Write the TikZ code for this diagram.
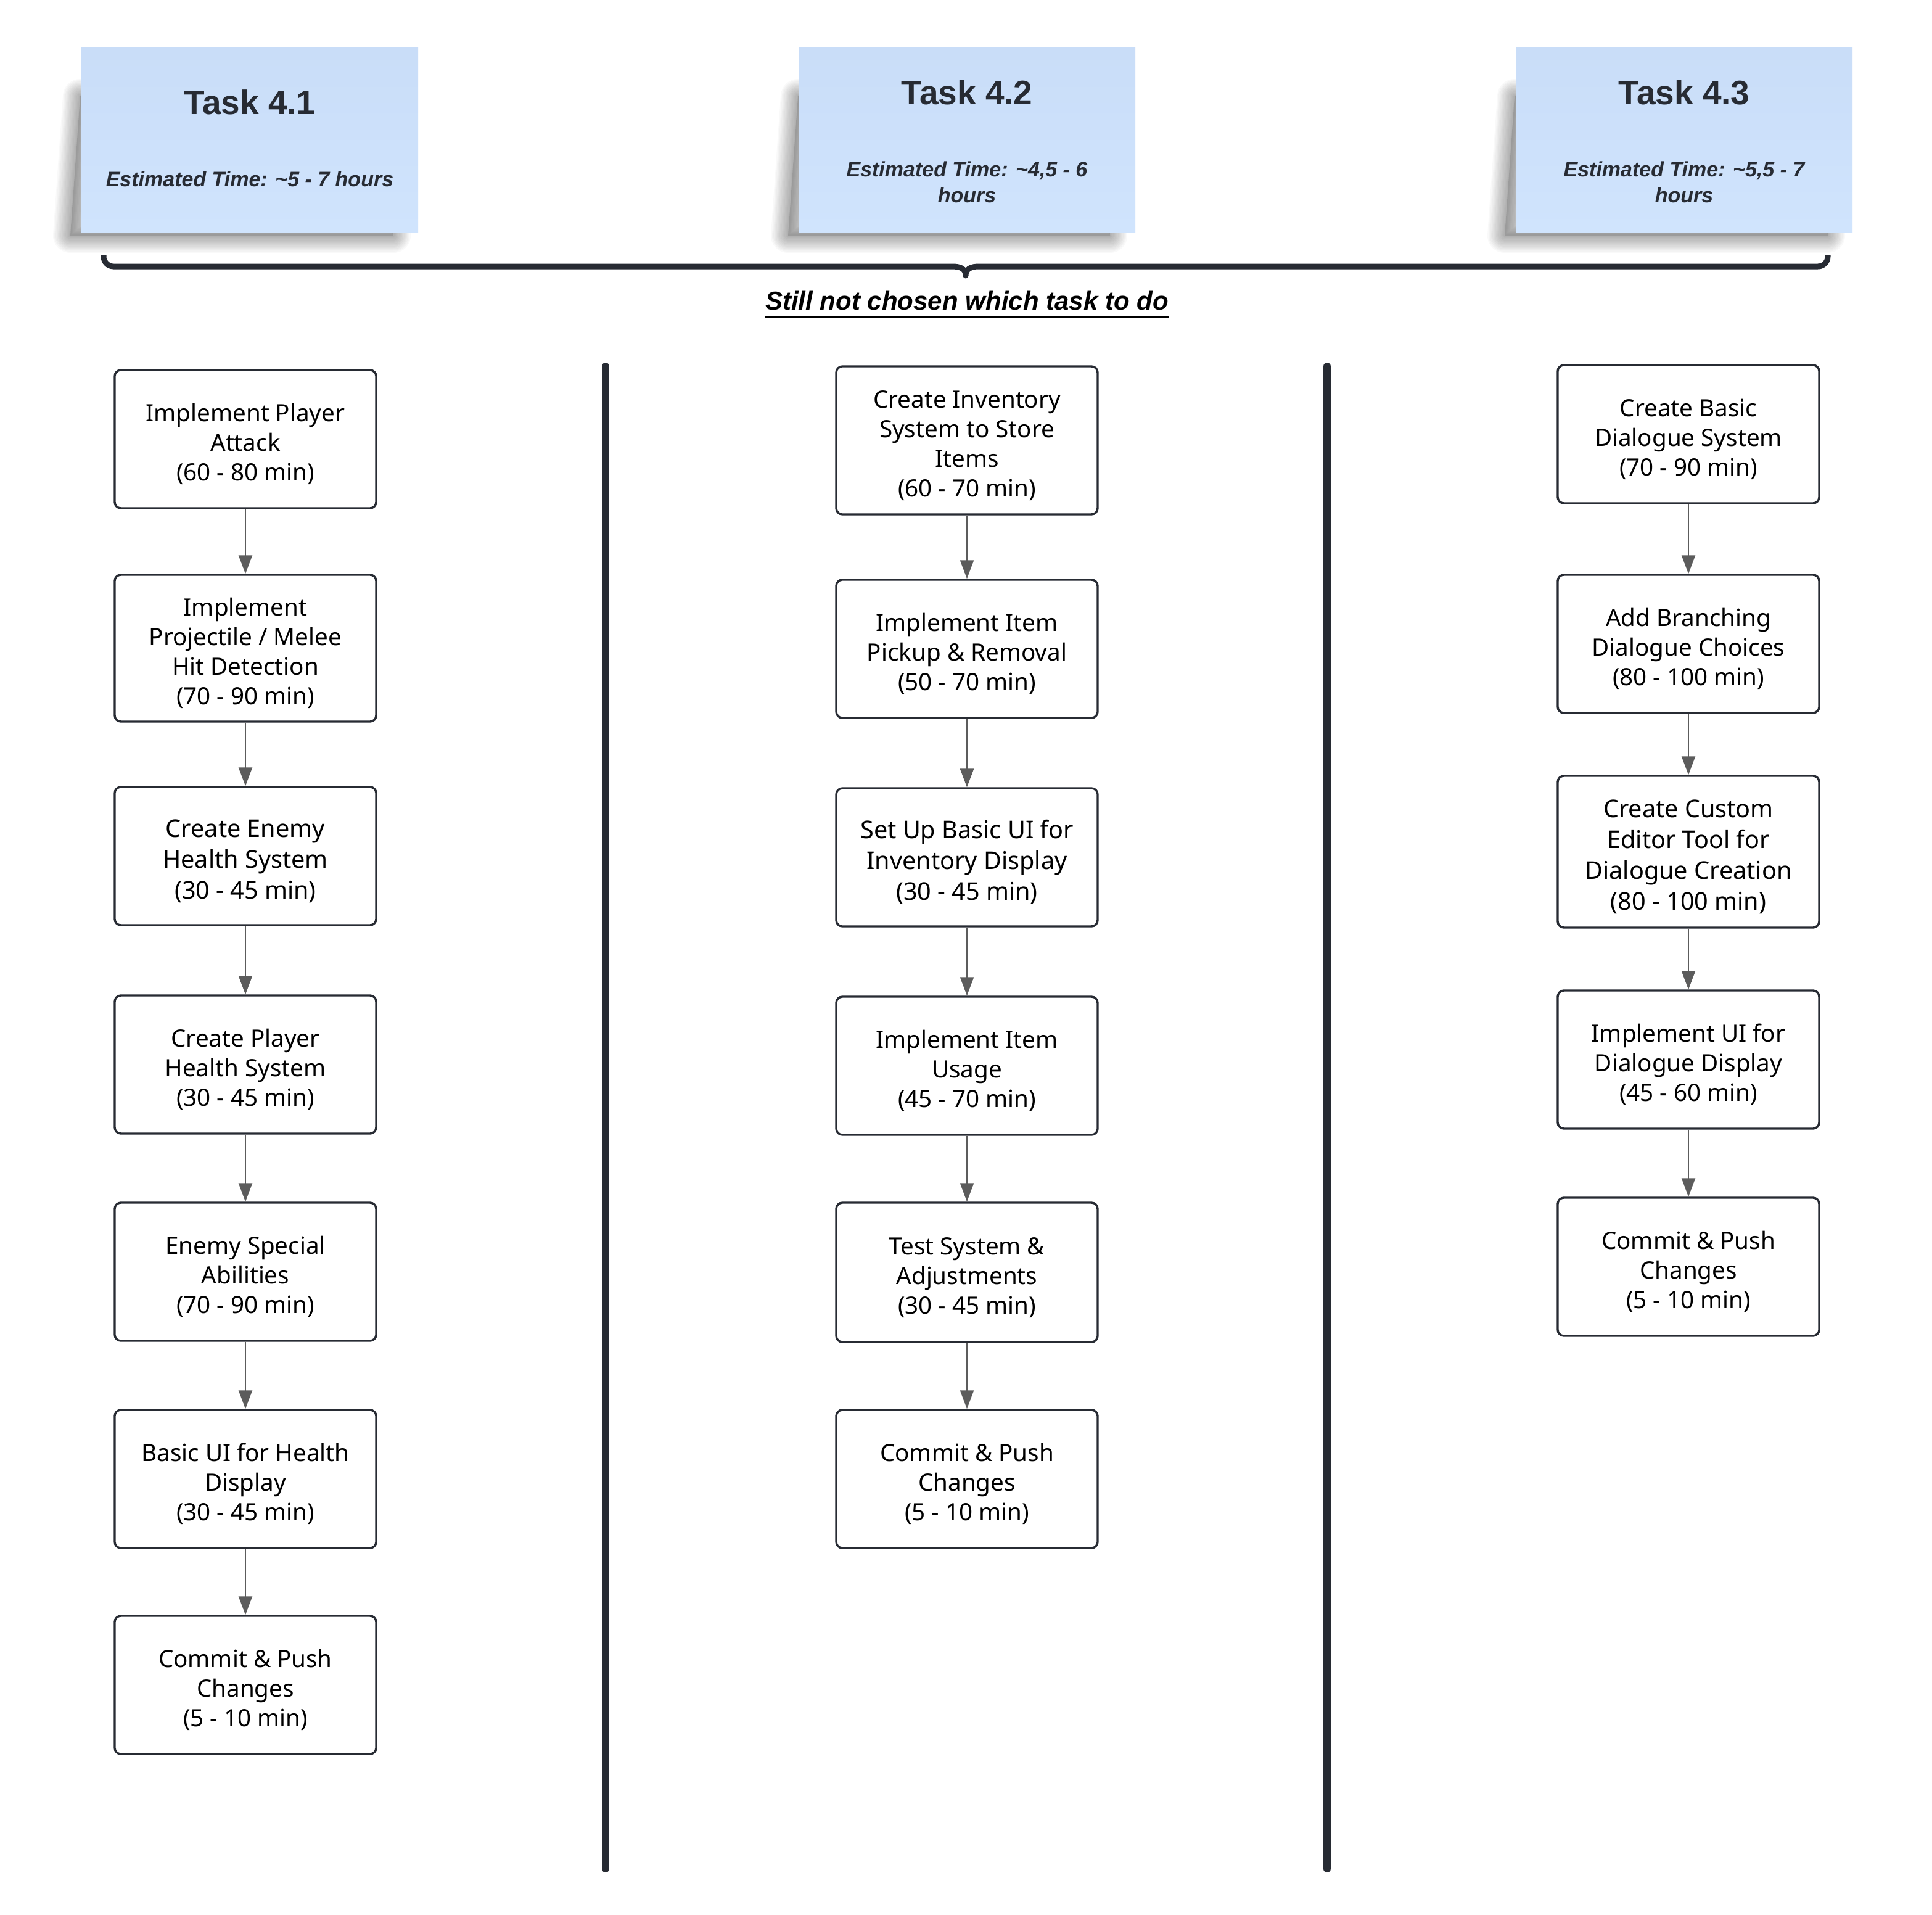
\documentclass[tikz,border=0pt]{standalone}
\usepackage{fontspec}
\setmainfont{Noto Sans}
\newfontfamily\headfont{Liberation Sans}
\usetikzlibrary{arrows.meta}

\definecolor{ink}{HTML}{272B33}
\definecolor{arrowgray}{HTML}{5C5C5C}
\definecolor{notetop}{HTML}{C9DDF8}
\definecolor{notebot}{HTML}{D0E4FD}

% taller first line so the text block sits a little lower in its box
\newcommand\lift{\rule{0pt}{23pt}}

\tikzset{
  stepbox/.style={draw=ink, line width=1.7pt, rounded corners=5pt, fill=white,
    minimum width=212pt, minimum height=112pt, align=center, inner sep=0pt,
    text=black, font=\fontsize{19.3}{24}\selectfont},
  bigstep/.style={stepbox, font=\fontsize{19.8}{25}\selectfont},
  flow/.style={draw=arrowgray, line width=1.2pt, -{Triangle[length=15pt,width=11pt]}},
  note/.style={minimum width=273pt, minimum height=150pt, inner sep=0pt,
    top color=notetop, bottom color=notebot, draw=none},
  notetitle/.style={text=ink, inner sep=0pt, font=\headfont\bfseries\fontsize{27.5}{32}\selectfont},
  noteeta/.style={text=ink, inner sep=0pt, align=center,
    font=\headfont\bfseries\itshape\fontsize{17}{21}\selectfont},
  divider/.style={draw=ink, line width=6pt, line cap=round},
  bracket/.style={draw=ink, line width=4.5pt, line join=round},
}

% soft drop shadow below-left of a sticky note (left, top, right, bottom)
\newcommand\noteshadow[4]{%
  \foreach \w in {2,4,...,28}{%
    \draw[line width=\w pt, draw=black, draw opacity=0.022, line join=round]
      (#1-1,#2+40) -- (#1-9,#4+3) -- (#3-20,#4+3) -- (#3-24,#2+40) -- cycle;}
  \fill[black, opacity=0.12] (#1-1,#2+40) -- (#1-9,#4+3) -- (#3-20,#4+3) -- (#3-24,#2+40) -- cycle;
}

\begin{document}
\begin{tikzpicture}[x=1pt,y=-1pt]
\useasboundingbox[fill=white] (0,0) rectangle (1566.5,1552.5);

% sticky notes with the three task headers
\noteshadow{66}{38}{339}{188}
\noteshadow{648}{38}{920}{188}
\noteshadow{1229}{38}{1502}{188}

\node[note] (n1) at (202.5,113) {};
\node[note] (n2) at (784,113) {};
\node[note] (n3) at (1365.5,113) {};

\node[notetitle] (t1) at (202.5,83) {Task 4.1};
\node[noteeta] (e1) at (202.5,145) {Estimated Time: \textasciitilde5 - 7 hours};
\node[notetitle] (t2) at (784,75) {Task 4.2};
\node[noteeta] (e2) at (784,147.5) {Estimated Time: \textasciitilde4,5 - 6\\hours};
\node[notetitle] (t3) at (1365.5,75) {Task 4.3};
\node[noteeta] (e3) at (1365.5,147.5) {Estimated Time: \textasciitilde5,5 - 7\\hours};

% curly bracket spanning the three tasks
\draw[bracket] (84,206.5) -- (84,208) arc[start angle=180, end angle=90, radius=8]
  -- (772,216) .. controls (779,216) and (783,218) .. (783,223.5)
  .. controls (783,218) and (787,216) .. (794,216)
  -- (1474,216) arc[start angle=90, end angle=0, radius=8] -- (1482,206.5);

\node[inner sep=0pt, anchor=base, text=black,
  font=\headfont\bfseries\itshape\fontsize{21}{24}\selectfont] (pick) at (784,251.3)
  {Still not chosen which task to do};
\draw[line width=1.7pt, black] ([yshift=-5.4pt]pick.base west) -- ([yshift=-5.4pt]pick.base east);

% column separators
\draw[divider] (491,297) -- (491,1515);
\draw[divider] (1076,297) -- (1076,1515);

% Task 4.1 steps
\node[stepbox] (a1) at (199,356) {\lift Implement Player\\Attack\\(60 - 80 min)};
\node[stepbox, minimum height=119pt] (a2) at (199,525.5) {\lift Implement\\Projectile / Melee\\Hit Detection\\(70 - 90 min)};
\node[bigstep] (a3) at (199,694) {\lift Create Enemy\\Health System\\(30 - 45 min)};
\node[stepbox] (a4) at (199,863) {\lift Create Player\\Health System\\(30 - 45 min)};
\node[stepbox] (a5) at (199,1031) {\lift Enemy Special\\Abilities\\(70 - 90 min)};
\node[stepbox] (a6) at (199,1199) {\lift Basic UI for Health\\Display\\(30 - 45 min)};
\node[stepbox] (a7) at (199,1366) {\lift Commit \& Push\\Changes\\(5 - 10 min)};

% Task 4.2 steps
\node[stepbox, minimum height=120pt] (b1) at (784,357) {\lift Create Inventory\\System to Store\\Items\\(60 - 70 min)};
\node[stepbox] (b2) at (784,526) {\lift Implement Item\\Pickup \& Removal\\(50 - 70 min)};
\node[bigstep] (b3) at (784,695) {\lift Set Up Basic UI for\\Inventory Display\\(30 - 45 min)};
\node[stepbox] (b4) at (784,864) {\lift Implement Item\\Usage\\(45 - 70 min)};
\node[stepbox, minimum height=113pt] (b5) at (784,1031.5) {\lift Test System \&\\Adjustments\\(30 - 45 min)};
\node[stepbox] (b6) at (784,1199) {\lift Commit \& Push\\Changes\\(5 - 10 min)};

% Task 4.3 steps
\node[stepbox] (c1) at (1369,352) {\lift Create Basic\\Dialogue System\\(70 - 90 min)};
\node[stepbox] (c2) at (1369,522) {\lift Add Branching\\Dialogue Choices\\(80 - 100 min)};
\node[bigstep, minimum height=123pt] (c3) at (1369,690.5) {\lift Create Custom\\Editor Tool for\\Dialogue Creation\\(80 - 100 min)};
\node[stepbox] (c4) at (1369,859) {\lift Implement UI for\\Dialogue Display\\(45 - 60 min)};
\node[stepbox] (c5) at (1369,1027) {\lift Commit \& Push\\Changes\\(5 - 10 min)};

% sequence arrows
\foreach \p/\q in {a1/a2,a2/a3,a3/a4,a4/a5,a5/a6,a6/a7,
                   b1/b2,b2/b3,b3/b4,b4/b5,b5/b6,
                   c1/c2,c2/c3,c3/c4,c4/c5}
  \draw[flow] (\p) -- (\q);
\end{tikzpicture}
\end{document}
